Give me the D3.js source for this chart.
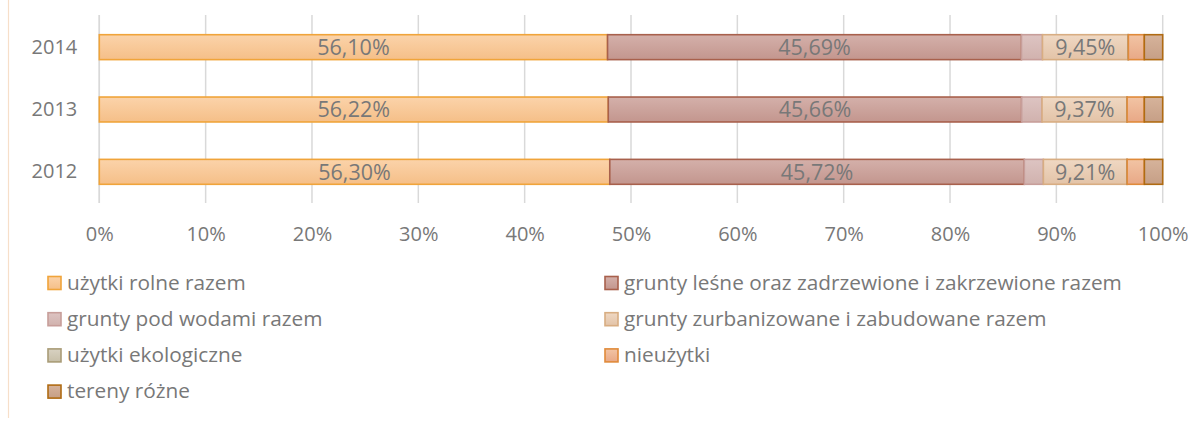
<!DOCTYPE html>
<html>
<head>
<meta charset="utf-8">
<script src="https://cdn.jsdelivr.net/npm/d3@7"></script>
<style>
	body { margin: 0; background: #fff; }
	svg { display: block; font-family: 'Open Sans', sans-serif; }
</style>
</head>
<body>
<div id="viz"></div>
<script>
// chart values
const YEARS = ['2014', '2013', '2012'];
const SERIES = [
	'użytki rolne razem',
	'grunty leśne oraz zadrzewione i zakrzewione razem',
	'grunty pod wodami razem',
	'grunty zurbanizowane i zabudowane razem',
	'użytki ekologiczne',
	'nieużytki',
	'tereny różne'
];
const ROLNE = [56.10, 56.22, 56.30];
const LESNE = [45.69, 45.66, 45.72];
const WODY = [2.32, 2.25, 2.10];
const ZURBANIZOWANE = [9.45, 9.37, 9.21];
const EKOLOGICZNE = [0.03, 0.03, 0.03];
const NIEUZYTKI = [1.76, 1.90, 1.90];
const TERENY = [2.03, 2.03, 2.02];
// which series get a data label
const LABELLED = [0, 1, 3];
const X_TICKS = [0, 0.1, 0.2, 0.3, 0.4, 0.5, 0.6, 0.7, 0.8, 0.9, 1];

const COLORS = [
	{ stroke: '#f0a43a', top: '#fbd3aa', bottom: '#f5bf88' },
	{ stroke: '#a8604c', top: '#d4b0aa', bottom: '#c3968e' },
	{ stroke: '#c79e9a', top: '#ddc4c2', bottom: '#d1b2ae' },
	{ stroke: '#d8ad82', top: '#efd8c3', bottom: '#e3c3a7' },
	{ stroke: '#a99c77', top: '#d8d2c2', bottom: '#c7bfa8' },
	{ stroke: '#e08a3a', top: '#f2c4a4', bottom: '#e8a886' },
	{ stroke: '#b06b12', top: '#d6b39b', bottom: '#c69f86' }
];

const WIDTH = 1191;
const HEIGHT = 421;
const PLOT_LEFT = 99.3;
const PLOT_RIGHT = 1162.7;
const PLOT_TOP = 16;
const PLOT_BOTTOM = 203;
const TEXT_COLOR = '#787878';
const FONT_SIZE = 20;
const LABEL_SIZE = 21.5;
const LEGEND_SIZE = 20.8;

const table = YEARS.map((year, i) => {
	return {
		year: year,
		s0: ROLNE[i], s1: LESNE[i], s2: WODY[i], s3: ZURBANIZOWANE[i],
		s4: EKOLOGICZNE[i], s5: NIEUZYTKI[i], s6: TERENY[i]
	};
});
const keys = SERIES.map((s, i) => 's' + i);

const stacked = d3.stack()
	.keys(keys)
	.offset(d3.stackOffsetExpand)(table);

const svg = d3.select('#viz').append('svg')
	.attr('width', WIDTH)
	.attr('height', HEIGHT);

const defs = svg.append('defs');
COLORS.forEach((c, i) => {
	const grad = defs.append('linearGradient')
		.attr('id', 'grad' + i)
		.attr('x1', 0).attr('y1', 0)
		.attr('x2', 0).attr('y2', 1);
	grad.append('stop').attr('offset', '0%').attr('stop-color', c.top);
	grad.append('stop').attr('offset', '100%').attr('stop-color', c.bottom);
});

// chart area edge on the left
svg.append('line')
	.attr('x1', 8.5).attr('x2', 8.5)
	.attr('y1', 0).attr('y2', HEIGHT - 3)
	.attr('stroke', '#f7dfc9')
	.attr('stroke-width', 1.2);

const xScale = d3.scaleLinear()
	.domain([0, 1])
	.range([PLOT_LEFT, PLOT_RIGHT]);

const yScale = d3.scaleBand()
	.domain(YEARS)
	.range([PLOT_TOP, PLOT_BOTTOM])
	.paddingInner(0.6)
	.paddingOuter(0.3);

// gridlines
svg.append('g')
	.attr('class', 'grid')
	.selectAll('line')
	.data(X_TICKS)
	.enter()
	.append('line')
	.attr('x1', (d) => xScale(d))
	.attr('x2', (d) => xScale(d))
	.attr('y1', PLOT_TOP - 1)
	.attr('y2', PLOT_BOTTOM)
	.attr('stroke', '#d9d9d9')
	.attr('stroke-width', 1.5);

// x axis labels
const xAxis = svg.append('g')
	.attr('transform', 'translate(0,' + (PLOT_BOTTOM + 24) + ')')
	.call(d3.axisBottom(xScale).tickValues(X_TICKS).tickFormat(d3.format('.0%')).tickSize(0).tickPadding(0));
xAxis.select('.domain').remove();
xAxis.selectAll('text')
	.attr('fill', TEXT_COLOR)
	.attr('font-size', FONT_SIZE)
	.attr('font-family', "'Open Sans', sans-serif");

// y axis labels
const yAxis = svg.append('g')
	.attr('transform', 'translate(' + (PLOT_LEFT - 22) + ',0)')
	.call(d3.axisLeft(yScale).tickSize(0).tickPadding(0));
yAxis.select('.domain').remove();
yAxis.selectAll('text')
	.attr('fill', TEXT_COLOR)
	.attr('font-size', FONT_SIZE)
	.attr('font-family', "'Open Sans', sans-serif");

// vertical axis line
svg.append('line')
	.attr('x1', xScale(0)).attr('x2', xScale(0))
	.attr('y1', PLOT_TOP - 1).attr('y2', PLOT_BOTTOM)
	.attr('stroke', '#d9d9d9')
	.attr('stroke-width', 1.5);

// bars
const layer = svg.append('g')
	.attr('class', 'bars')
	.selectAll('.layer')
	.data(stacked)
	.enter()
	.append('g')
	.attr('class', 'layer')
	.attr('fill', (d, i) => 'url(#grad' + i + ')')
	.attr('stroke', (d, i) => COLORS[i].stroke);

layer.selectAll('rect')
	.data((d) => d)
	.enter()
	.append('rect')
	.attr('x', (d) => xScale(d[0]))
	.attr('y', (d) => yScale(d.data.year))
	.attr('width', (d) => xScale(d[1]) - xScale(d[0]))
	.attr('height', yScale.bandwidth())
	.attr('stroke-width', 1.6);

// data labels
svg.append('g')
	.attr('class', 'labels')
	.selectAll('.label-layer')
	.data(stacked.filter((d, i) => LABELLED.includes(i)))
	.enter()
	.append('g')
	.selectAll('text')
	.data((d) => d.map((p) => ({ p: p, key: d.key })))
	.enter()
	.append('text')
	.attr('x', (d) => (xScale(d.p[0]) + xScale(d.p[1])) / 2)
	.attr('y', (d) => yScale(d.p.data.year) + yScale.bandwidth() / 2)
	.attr('dy', '0.36em')
	.attr('text-anchor', 'middle')
	.attr('fill', TEXT_COLOR)
	.attr('font-size', LABEL_SIZE)
	.text((d) => d.p.data[d.key].toFixed(2).replace('.', ',') + '%');

// legend, two columns
const LEGEND_X = [47, 604];
const LEGEND_Y0 = 283;
const LEGEND_STEP = 36.2;

const legend = svg.append('g')
	.attr('class', 'legend')
	.selectAll('.legend-item')
	.data(SERIES)
	.enter()
	.append('g')
	.attr('class', 'legend-item')
	.attr('transform', (d, i) => 'translate(' + LEGEND_X[i % 2] + ',' + (LEGEND_Y0 + Math.floor(i / 2) * LEGEND_STEP) + ')');

legend.append('rect')
	.attr('x', 1)
	.attr('y', -6.5)
	.attr('width', 13)
	.attr('height', 13)
	.attr('fill', (d, i) => 'url(#grad' + i + ')')
	.attr('stroke', (d, i) => COLORS[i].stroke)
	.attr('stroke-width', 1.6);

legend.append('text')
	.attr('x', 20)
	.attr('y', 0)
	.attr('dy', '0.33em')
	.attr('fill', TEXT_COLOR)
	.attr('font-size', LEGEND_SIZE)
	.text((d) => d);
</script>
</body>
</html>
